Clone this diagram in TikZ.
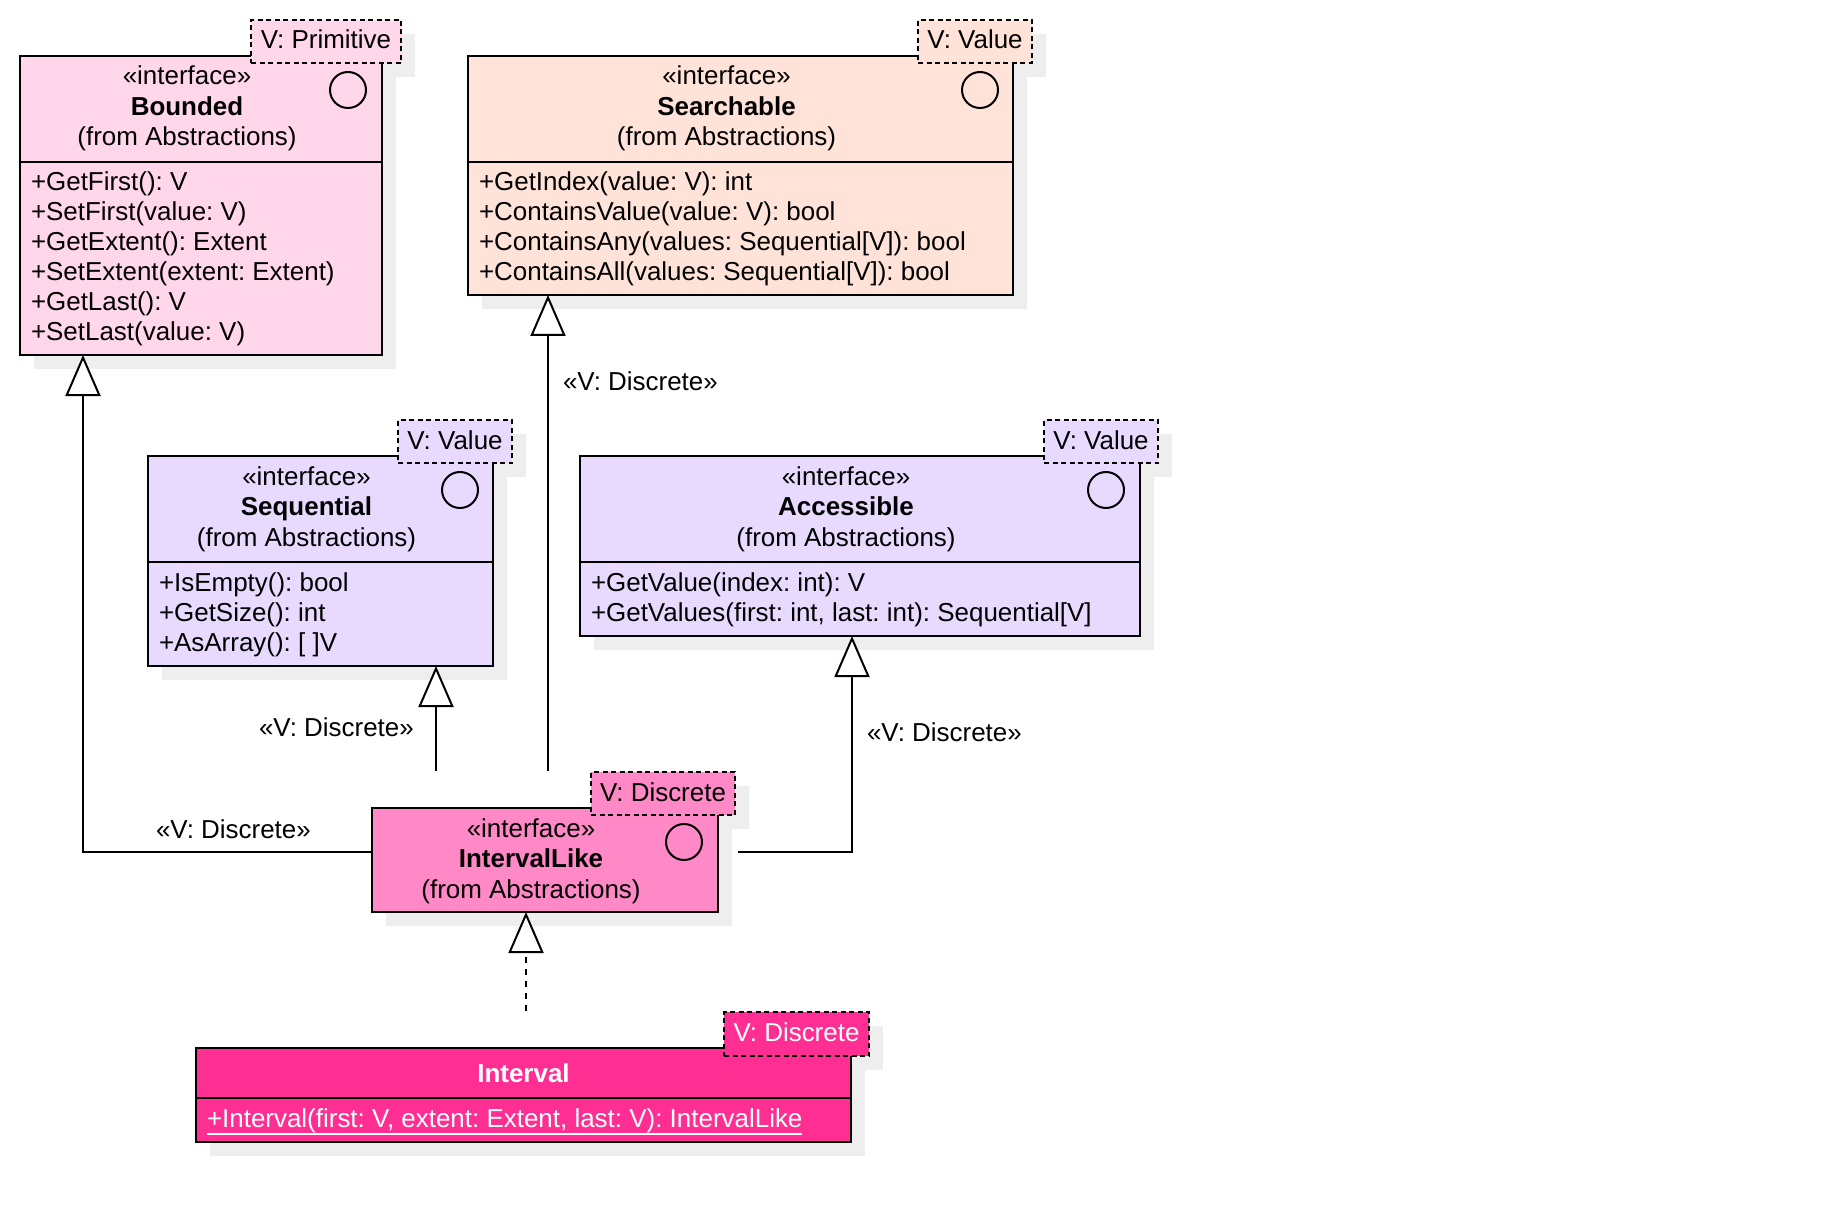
\documentclass[tikz,border=0pt]{standalone}
\usepackage{fontspec}
\setmainfont{Liberation Sans}
\usetikzlibrary{arrows.meta}
\definecolor{cBounded}{HTML}{FFD6EA}
\definecolor{cSearch}{HTML}{FFE3D8}
\definecolor{cLav}{HTML}{E8DAFF}
\definecolor{cIL}{HTML}{FF88C6}
\definecolor{cIv}{HTML}{FF2E93}
\definecolor{cShadow}{HTML}{EEEEEE}
\newcommand\dfont{\fontsize{25.95}{30}\selectfont\frenchspacing}
\begin{document}
\begin{tikzpicture}[x=1pt,y=-1pt,
  txt/.style={font=\dfont, inner sep=0pt, outer sep=0pt, yshift=-1pt},
  ctr/.style={txt, anchor=base},
  lft/.style={txt, anchor=base west},
  shad/.style={fill=cShadow, draw=none},
  cls/.style={draw=black, line width=2pt, rectangle, inner sep=0pt, outer sep=0pt, anchor=north west},
  tmpl/.style={draw=black, line width=1.8pt, dash pattern=on 5pt off 3.5pt, rectangle, inner sep=0pt, outer sep=0pt, anchor=north west},
  sep/.style={line width=2pt},
  ring/.style={draw=black, line width=2pt, circle, minimum size=36pt, inner sep=0pt},
  gen/.style={line width=2pt, -{Triangle[length=41pt, width=35pt, fill=white]}},
  real/.style={gen, dash pattern=on 6pt off 6pt},
]
\fill[white] (0,0) rectangle (1828,1222);
\useasboundingbox (0,0) rectangle (1828,1222);

% ---------- shadows ----------
\fill[shad] (34,70) rectangle (396,369);
\fill[shad] (265,34) rectangle (415,77);
\fill[shad] (482,70) rectangle (1027,309);
\fill[shad] (932,34) rectangle (1046,77);
\fill[shad] (162,470) rectangle (507,680);
\fill[shad] (412,434) rectangle (526,477);
\fill[shad] (594,470) rectangle (1154,650);
\fill[shad] (1058,434) rectangle (1172,477);
\fill[shad] (386,822) rectangle (732,926);
\fill[shad] (605,786) rectangle (749,829);
\fill[shad] (210,1062) rectangle (865,1156);
\fill[shad] (738,1026) rectangle (883,1070);

% ---------- Bounded ----------
\node[cls, fill=cBounded, minimum width=362pt, minimum height=299pt] (bounded) at (20,56) {};
\draw[sep] ([yshift=-106pt]bounded.north west) -- ([yshift=-106pt]bounded.north east);
\node[ring] (bcirc) at (348,90) {};
\node[ctr] (bt1) at (187,84) {«interface»};
\node[ctr] (bt2) at (187,114.5) {\bfseries Bounded};
\node[ctr] (bt3) at (187,145) {(from Abstractions)};
\node[lft] (bm1) at (31,190) {+GetFirst(): V};
\node[lft] (bm2) at (31,220) {+SetFirst(value: V)};
\node[lft] (bm3) at (31,250) {+GetExtent(): Extent};
\node[lft] (bm4) at (31,280) {+SetExtent(extent: Extent)};
\node[lft] (bm5) at (31,310) {+GetLast(): V};
\node[lft] (bm6) at (31,340) {+SetLast(value: V)};
\node[tmpl, fill=cBounded, minimum width=150pt, minimum height=43pt] (btmp) at (251,20) {};
\node[ctr] (btmpt) at (326,48) {V: Primitive};

% ---------- Searchable ----------
\node[cls, fill=cSearch, minimum width=545pt, minimum height=239pt] (searchable) at (468,56) {};
\draw[sep] ([yshift=-106pt]searchable.north west) -- ([yshift=-106pt]searchable.north east);
\node[ring] (scirc) at (980,90) {};
\node[ctr] (st1) at (726.5,84) {«interface»};
\node[ctr] (st2) at (726.5,114.5) {\bfseries Searchable};
\node[ctr] (st3) at (726.5,145) {(from Abstractions)};
\node[lft] (sm1) at (479,190) {+GetIndex(value: V): int};
\node[lft] (sm2) at (479,220) {+ContainsValue(value: V): bool};
\node[lft] (sm3) at (479,250) {+ContainsAny(values: Sequential[V]): bool};
\node[lft] (sm4) at (479,280) {+ContainsAll(values: Sequential[V]): bool};
\node[tmpl, fill=cSearch, minimum width=114pt, minimum height=43pt] (stmp) at (918,20) {};
\node[ctr] (stmpt) at (975,48) {V: Value};

% ---------- Sequential ----------
\node[cls, fill=cLav, minimum width=345pt, minimum height=210pt] (sequential) at (148,456) {};
\draw[sep] ([yshift=-106pt]sequential.north west) -- ([yshift=-106pt]sequential.north east);
\node[ring] (qcirc) at (460,490) {};
\node[ctr] (qt1) at (306.5,484) {«interface»};
\node[ctr] (qt2) at (306.5,514.5) {\bfseries Sequential};
\node[ctr] (qt3) at (306.5,545) {(from Abstractions)};
\node[lft] (qm1) at (159,590) {+IsEmpty(): bool};
\node[lft] (qm2) at (159,620) {+GetSize(): int};
\node[lft] (qm3) at (159,650) {+AsArray(): [ ]V};
\node[tmpl, fill=cLav, minimum width=114pt, minimum height=43pt] (qtmp) at (398,420) {};
\node[ctr] (qtmpt) at (455,448) {V: Value};

% ---------- Accessible ----------
\node[cls, fill=cLav, minimum width=560pt, minimum height=180pt] (accessible) at (580,456) {};
\draw[sep] ([yshift=-106pt]accessible.north west) -- ([yshift=-106pt]accessible.north east);
\node[ring] (acirc) at (1106,490) {};
\node[ctr] (at1) at (846,484) {«interface»};
\node[ctr] (at2) at (846,514.5) {\bfseries Accessible};
\node[ctr] (at3) at (846,545) {(from Abstractions)};
\node[lft] (am1) at (591,590) {+GetValue(index: int): V};
\node[lft] (am2) at (591,620) {+GetValues(first: int, last: int): Sequential[V]};
\node[tmpl, fill=cLav, minimum width=114pt, minimum height=43pt] (atmp) at (1044,420) {};
\node[ctr] (atmpt) at (1101,448) {V: Value};

% ---------- IntervalLike ----------
\node[cls, fill=cIL, minimum width=346pt, minimum height=104pt] (intervallike) at (372,808) {};
\node[ring] (icirc) at (684,842) {};
\node[ctr] (it1) at (531,836) {«interface»};
\node[ctr] (it2) at (531,866.5) {\bfseries IntervalLike};
\node[ctr] (it3) at (531,897) {(from Abstractions)};
\node[tmpl, fill=cIL, minimum width=144pt, minimum height=43pt] (itmp) at (591,772) {};
\node[ctr] (itmpt) at (663,800) {V: Discrete};

% ---------- Interval ----------
\node[cls, fill=cIv, minimum width=655pt, minimum height=94pt] (interval) at (196,1048) {};
\draw[sep] ([yshift=-50pt]interval.north west) -- ([yshift=-50pt]interval.north east);
\node[ctr, text=white] (vt1) at (523.5,1081) {\bfseries Interval};
\node[lft, text=white] (vm1) at (207,1126) {+Interval(first: V, extent: Extent, last: V): IntervalLike};
\draw[white, line width=1.6pt] ([yshift=-7pt]vm1.base west) -- ([yshift=-7pt]vm1.base east);
\node[tmpl, fill=cIv, minimum width=145pt, minimum height=44pt] (vtmp) at (724,1012) {};
\node[ctr, text=white] (vtmpt) at (796.5,1040) {V: Discrete};

% ---------- connectors ----------
\coordinate (ilR) at (738,852);
\coordinate (seqFoot) at (436,771);
\coordinate (srchFoot) at (548,771);
\coordinate (ivFoot) at (526,1011);
\draw[gen] ([yshift=8pt]intervallike.west) -| ([xshift=63pt]bounded.south west);
\draw[gen] (ilR) -| ([xshift=272pt]accessible.south west);
\draw[gen] (seqFoot) -- ([xshift=288pt]sequential.south west);
\draw[gen] (srchFoot) -- ([xshift=80pt]searchable.south west);
\draw[real] (ivFoot) -- ([xshift=154pt]intervallike.south west);

% ---------- labels ----------
\node[lft] (l1) at (156,837) {«V: Discrete»};
\node[lft] (l2) at (259,735) {«V: Discrete»};
\node[lft] (l3) at (563,390) {«V: Discrete»};
\node[lft] (l4) at (867,740) {«V: Discrete»};
\end{tikzpicture}
\end{document}
